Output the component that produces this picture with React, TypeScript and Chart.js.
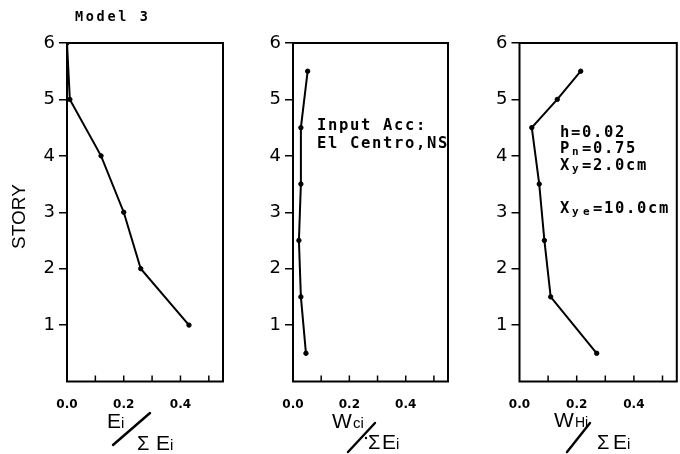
import React, { useEffect, useRef } from 'react';
import { Chart, registerables } from 'chart.js';

Chart.register(...registerables);

// ---------------- data ----------------
const STORY_TICKS = [1, 2, 3, 4, 5, 6];
const X_TICKS = [0, 0.1, 0.2, 0.3, 0.4, 0.5];
const X_TICK_LABELS = ['0.0', '', '0.2', '', '0.4', ''];

const EI_RATIO = [0, 0.01, 0.12, 0.2, 0.26, 0.43];
const EI_STORY = [6, 5, 4, 3, 2, 1];

const WC_RATIO = [0.052, 0.028, 0.028, 0.021, 0.028, 0.046];
const WC_STORY = [5.5, 4.5, 3.5, 2.5, 1.5, 0.5];

const WH_RATIO = [0.214, 0.132, 0.043, 0.069, 0.087, 0.109, 0.27];
const WH_STORY = [5.5, 5, 4.5, 3.5, 2.5, 1.5, 0.5];

const TITLE = 'Model 3';
const Y_TITLE = 'STORY';
const INPUT_LINES = ['Input Acc:', 'El Centro,NS'];
const PARAM_LINES: [string, string, string][] = [
  ['h', '', '=0.02'],
  ['P', 'n', '=0.75'],
  ['X', 'y', '=2.0cm'],
  ['X', 'ye', '=10.0cm'],
];

// ---------------- layout ----------------
const W = 680;
const H = 454;
const AREA_TOP = 43;
const AREA_BOTTOM = 381.5;
const Y_AXIS_W = 40;
const MONO = '"DejaVu Sans Mono", monospace';
const SANS = '"Liberation Sans", Arial, sans-serif';

type Ctx = CanvasRenderingContext2D;

function sans(ctx: Ctx, t: string, x: number, y: number, size: number) {
  ctx.font = `${size}px ${SANS}`;
  ctx.fillText(t, x, y);
}

function slash(ctx: Ctx, x1: number, y1: number, x2: number, y2: number) {
  ctx.save();
  ctx.lineWidth = 2.4;
  ctx.lineCap = 'round';
  ctx.beginPath();
  ctx.moveTo(x1, y1);
  ctx.lineTo(x2, y2);
  ctx.stroke();
  ctx.restore();
}

function mono(ctx: Ctx, x: number, y: number, segs: { t: string; sub?: boolean }[], size: number, adv: number) {
  let cx = x;
  for (const s of segs) {
    ctx.font = `bold ${s.sub ? Math.round(size * 0.68) : size}px ${MONO}`;
    for (const ch of s.t) {
      ctx.fillText(ch, cx + (s.sub ? 1 : 0), y + (s.sub ? 2 : 0));
      cx += adv;
    }
  }
}

function decorate1(ctx: Ctx) {
  mono(ctx, 75, 21, [{ t: TITLE }], 13.5, 10.8);
  ctx.save();
  ctx.translate(19.5, 216.5);
  ctx.rotate(-Math.PI / 2);
  ctx.textAlign = 'center';
  ctx.textBaseline = 'middle';
  ctx.font = `19px ${SANS}`;
  ctx.fillText(Y_TITLE, 0, 0);
  ctx.restore();
  sans(ctx, 'E', 107, 428, 21);
  sans(ctx, 'i', 121, 428, 15);
  slash(ctx, 113, 445, 150, 413);
  sans(ctx, 'Σ', 137, 450, 20);
  sans(ctx, 'E', 156, 450, 21);
  sans(ctx, 'i', 170, 450, 15);
}

function decorate2(ctx: Ctx) {
  sans(ctx, 'W', 332, 428, 21);
  sans(ctx, 'ci', 353, 428, 15);
  slash(ctx, 348, 452, 375, 423);
  ctx.beginPath();
  ctx.arc(366, 438, 1.2, 0, Math.PI * 2);
  ctx.fill();
  sans(ctx, 'Σ', 368, 449, 20);
  sans(ctx, 'E', 382, 449, 21);
  sans(ctx, 'i', 396, 449, 15);
  mono(ctx, 317, 130, [{ t: INPUT_LINES[0] }], 15.5, 11);
  mono(ctx, 317, 148, [{ t: INPUT_LINES[1] }], 15.5, 11);
}

const PARAM_BASELINES = [137, 153, 169.5, 212.5];

function decorate3(ctx: Ctx) {
  sans(ctx, 'W', 554, 427, 21);
  sans(ctx, 'Hi', 575, 427, 14);
  slash(ctx, 567, 452, 590, 423);
  sans(ctx, 'Σ', 597, 449, 20);
  sans(ctx, 'E', 613, 449, 21);
  sans(ctx, 'i', 627, 449, 15);
  PARAM_LINES.forEach((p, i) => {
    mono(ctx, 560, PARAM_BASELINES[i], [{ t: p[0] }, { t: p[1], sub: true }, { t: p[2] }], 15.5, 11);
  });
}

function makeDecor(fn: (ctx: Ctx) => void) {
  return {
    id: 'decor',
    afterDraw(chart: any) {
      const { ctx, chartArea: a, scales } = chart;
      ctx.save();
      ctx.strokeStyle = '#000';
      ctx.fillStyle = '#000';
      ctx.lineWidth = 2;
      ctx.strokeRect(a.left, a.top, a.right - a.left, a.bottom - a.top);
      ctx.lineWidth = 1.5;
      for (const v of X_TICKS) {
        if (v === 0) continue;
        const px = scales.x.getPixelForValue(v);
        ctx.beginPath();
        ctx.moveTo(px, a.bottom);
        ctx.lineTo(px, a.bottom - 6);
        ctx.stroke();
      }
      ctx.textAlign = 'left';
      ctx.textBaseline = 'alphabetic';
      fn(ctx);
      ctx.restore();
    },
  };
}

type PanelProps = {
  xs: number[];
  ys: number[];
  left: number;
  right: number;
  decorate: (ctx: Ctx) => void;
};

function Panel({ xs, ys, left, right, decorate }: PanelProps) {
  const ref = useRef<HTMLCanvasElement>(null);
  useEffect(() => {
    const chart = new Chart(ref.current as HTMLCanvasElement, {
      type: 'scatter',
      data: {
        datasets: [
          {
            data: xs.map((x, i) => ({ x, y: ys[i] })),
            showLine: true,
            borderColor: '#000',
            borderWidth: 2,
            pointRadius: 2.2,
            pointHoverRadius: 2.2,
            pointBackgroundColor: '#000',
            pointBorderColor: '#000',
            pointBorderWidth: 1,
          },
        ],
      },
      options: {
        animation: false,
        responsive: false,
        events: [],
        layout: { padding: { left: left - Y_AXIS_W, right: W - right, top: AREA_TOP, bottom: 0 } },
        plugins: { legend: { display: false }, tooltip: { enabled: false } },
        scales: {
          x: {
            type: 'linear',
            min: 0,
            max: 0.55,
            afterBuildTicks: (s: any) => {
              s.ticks = X_TICKS.map((v) => ({ value: v }));
            },
            afterFit: (s: any) => {
              s.height = H - AREA_BOTTOM;
            },
            grid: { display: false },
            border: { display: false },
            ticks: {
              autoSkip: false,
              maxRotation: 0,
              padding: 8,
              color: '#000',
              font: { family: '"DejaVu Sans"', size: 12, weight: 'bold' },
              callback: (_v: any, i: number) => X_TICK_LABELS[i],
            },
          },
          y: {
            type: 'linear',
            min: 0,
            max: 6,
            afterBuildTicks: (s: any) => {
              s.ticks = STORY_TICKS.map((v) => ({ value: v }));
            },
            afterFit: (s: any) => {
              s.width = Y_AXIS_W;
            },
            grid: { drawOnChartArea: false, drawTicks: true, tickLength: 8, color: '#000', lineWidth: 1.5 },
            border: { display: false },
            ticks: {
              padding: 4,
              color: '#000',
              font: { family: '"DejaVu Sans"', size: 18 },
              callback: (v: any) => String(v),
            },
          },
        },
      },
      plugins: [makeDecor(decorate)],
    } as any);
    return () => chart.destroy();
  }, []);
  return <canvas ref={ref} width={W} height={H} style={{ position: 'absolute', left: 0, top: 0 }} />;
}

export default function App() {
  return (
    <div style={{ position: 'fixed', left: 0, top: 0, width: W, height: H, background: '#fff' }}>
      <Panel xs={EI_RATIO} ys={EI_STORY} left={67} right={223} decorate={decorate1} />
      <Panel xs={WC_RATIO} ys={WC_STORY} left={293} right={448} decorate={decorate2} />
      <Panel xs={WH_RATIO} ys={WH_STORY} left={519.5} right={677} decorate={decorate3} />
    </div>
  );
}
